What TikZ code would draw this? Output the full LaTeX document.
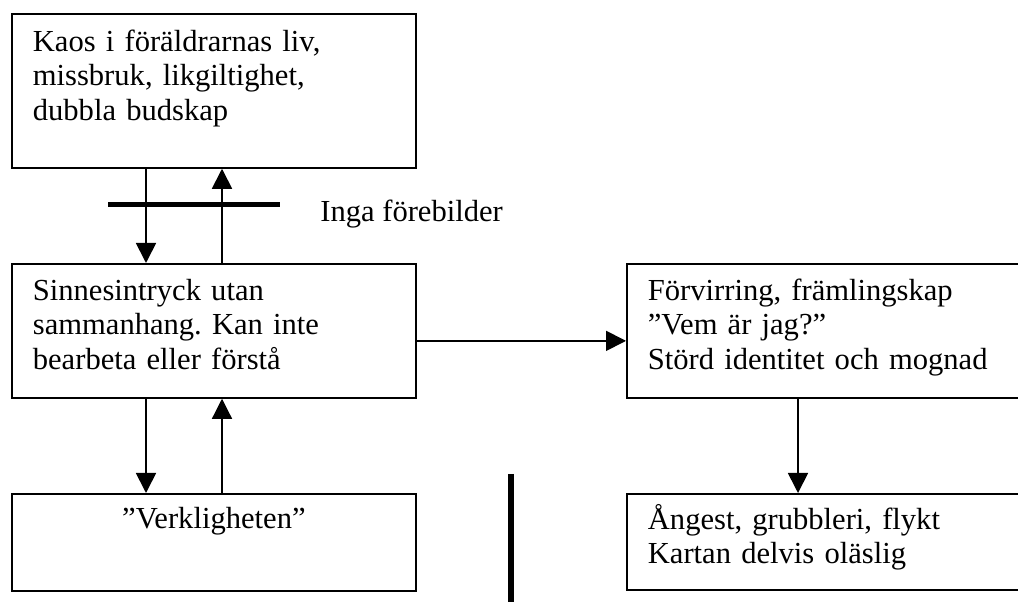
\documentclass[tikz,border=0pt]{standalone}
\usepackage{fontspec}
\setmainfont{Liberation Serif}
\usetikzlibrary{arrows.meta}
\frenchspacing

\tikzset{
  box/.style={draw, line width=1pt, anchor=north west, align=left, inner xsep=0.42cm, inner ysep=0pt, text width=7.24cm, font=\fontsize{17.4pt}{19.4pt}\selectfont},
  arr/.style={line width=1pt, -{Triangle[length=0.4cm,width=0.4cm]}},
  bar/.style={line width=0.1cm}
}

\begin{document}
\begin{tikzpicture}
        \useasboundingbox (0,0) rectangle (20.36,12.04);
        \clip (0,0) rectangle (20.36,12.04);
        \node[box, text height=0.76cm, text depth=2.32cm] (kaos) at (0.22,11.78) {Kaos i föräldrarnas liv,\\ missbruk, likgiltighet,\\ dubbla budskap};
        \node[box, text height=0.74cm, text depth=1.94cm] (sinn) at (0.22,6.78) {Sinnesintryck utan\\ sammanhang. Kan inte\\ bearbeta eller förstå};
        \node[box, align=center, text height=0.70cm, text depth=1.24cm] (verk) at (0.22,2.18) {”Verkligheten”};
        \node[box, text width=7.9cm, text height=0.74cm, text depth=1.94cm] (forv) at (12.52,6.78) {Förvirring, främlingskap\\ ”Vem är jag?”\\ Störd identitet och mognad};
        \node[box, text width=7.9cm, text height=0.72cm, text depth=1.20cm] (ang) at (12.52,2.18) {Ångest, grubbleri, flykt\\ Kartan delvis oläslig};
        \node[anchor=base west, inner sep=0pt, font=\fontsize{17.4pt}{19.4pt}\selectfont] (inga) at (6.40,7.60) {Inga förebilder};
        \draw[arr] ([xshift=2.70cm]kaos.south west) -- ([xshift=2.70cm]sinn.north west);
        \draw[arr] ([xshift=4.22cm]sinn.north west) -- ([xshift=4.22cm]kaos.south west);
        \draw[arr] ([xshift=2.70cm]sinn.south west) -- ([xshift=2.70cm]verk.north west);
        \draw[arr, line width=0.7pt] ([xshift=4.22cm]verk.north west) -- ([xshift=4.22cm]sinn.south west);
        \draw[arr] ([yshift=-0.2cm]sinn.east) -- ([yshift=-0.2cm]forv.west);
        \draw[arr] ([xshift=3.44cm]forv.south west) -- ([xshift=3.44cm]ang.north west);
        \draw[bar] (2.16,7.94) -- (5.60,7.94);
        \draw[bar, line width=0.12cm] (10.22,2.56) -- (10.22,0);
      \end{tikzpicture}
\end{document}
